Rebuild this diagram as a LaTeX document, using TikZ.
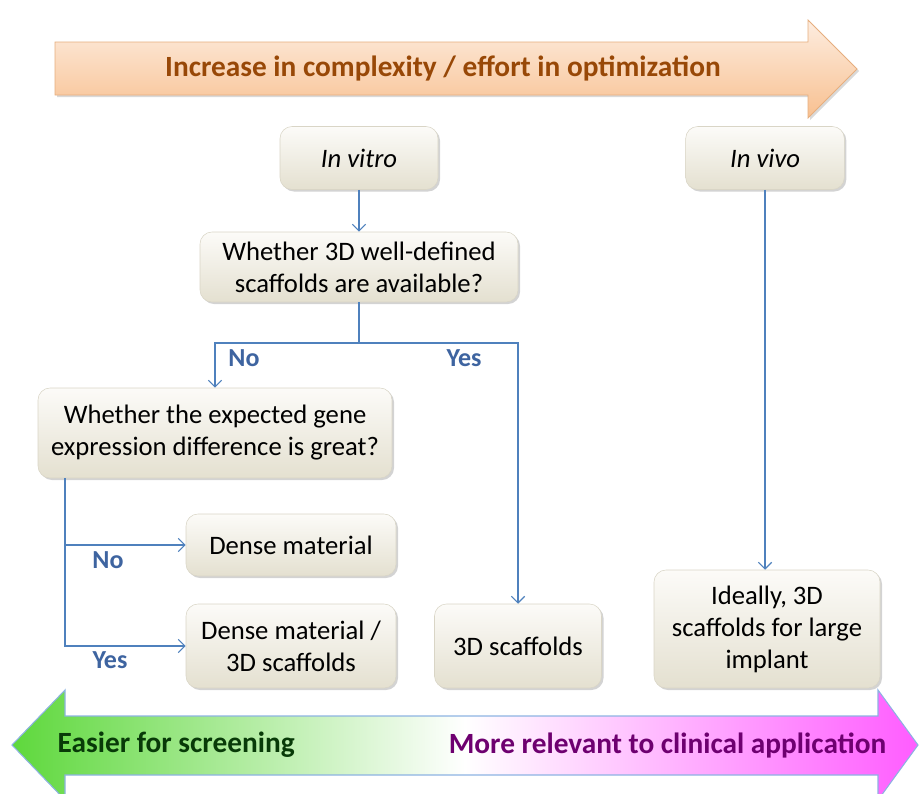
\documentclass[tikz,border=0pt]{standalone}
\usepackage{fontspec}
\setmainfont{Carlito}
\usetikzlibrary{arrows.meta,shadows}
\definecolor{conncol}{HTML}{4F81BD}
\definecolor{labcol}{HTML}{3E64A0}
\definecolor{boxtop}{HTML}{FCFBF8}
\definecolor{boxbot}{HTML}{E4E0D0}
\definecolor{boxline}{HTML}{D9D5C6}
\definecolor{toptxt}{HTML}{984807}
\definecolor{arrtop}{HTML}{FDEDE0}
\definecolor{arrbot}{HTML}{F8C090}
\definecolor{arrline}{HTML}{E6AE7E}
\definecolor{grn}{HTML}{5ED83C}
\definecolor{mag}{HTML}{FF5CFF}
\definecolor{botline}{HTML}{8DB3E2}
\definecolor{grntxt}{HTML}{083A08}
\definecolor{magtxt}{HTML}{6E0070}
\tikzset{
  box/.style={rounded corners=9pt, draw=boxline, top color=boxtop, bottom color=boxbot,
    align=center, font=\fontsize{20}{24}\selectfont, inner sep=2pt,
    drop shadow={opacity=0.35, shadow xshift=1.5pt, shadow yshift=-1.5pt}},
  conn/.style={draw=conncol, line width=0.8pt, -{Straight Barb[length=5pt,width=10pt,line width=0.8pt]}},
  connl/.style={draw=conncol, line width=0.8pt},
  lab/.style={text=labcol, font=\fontsize{19.5}{22}\selectfont\bfseries}
}
\begin{document}
\begin{tikzpicture}[x=0.75pt,y=-0.75pt]
\useasboundingbox (0,0) rectangle (920,793);
% top arrow
\path[top color=arrtop, bottom color=arrbot, draw=arrline, line width=0.6pt,
  drop shadow={opacity=0.3, shadow xshift=1.5pt, shadow yshift=-1.5pt}]
  (55,42) -- (808,42) -- (808,20) -- (857,69) -- (808,118) -- (808,95) -- (55,95) -- cycle;
\node[text=toptxt, font=\fontsize{22}{26}\selectfont\bfseries] (toptext) at (443,68) {Increase in complexity / effort in optimization};
% bottom arrow
\path[left color=grn, right color=mag, middle color=white, draw=botline, line width=0.8pt]
  (12,745) -- (65,690) -- (65,716) -- (878,716) -- (878,690) -- (918,745) -- (878,800) -- (878,775) -- (65,775) -- (65,800) -- cycle;
\node[text=grntxt, font=\fontsize{22}{26}\selectfont\bfseries, anchor=west] (lefttext) at (53,745) {Easier for screening};
\node[text=magtxt, font=\fontsize{22}{26}\selectfont\bfseries, anchor=east] (righttext) at (891,745) {More relevant to clinical application};
% boxes
\node[box, minimum width=118.5pt, minimum height=47.25pt] (invitro) at (359,158) {\itshape In vitro};
\node[box, minimum width=119pt, minimum height=47.25pt] (invivo) at (765,158) {\itshape In vivo};
\node[box, minimum width=238.5pt, minimum height=52.5pt] (q1) at (359,267) {Whether 3D well-defined\\scaffolds are available?};
\node[box, minimum width=265.5pt, minimum height=67.5pt] (q2) at (215,433) {Whether the expected gene\\expression difference is great?};
\node[box, minimum width=157.5pt, minimum height=46.5pt] (dense) at (291,545) {Dense material};
\node[box, minimum width=157.5pt, minimum height=63pt] (dense3d) at (291,646) {Dense material /\\3D scaffolds};
\node[box, minimum width=125.25pt, minimum height=63pt] (scaf) at (518,646) {3D scaffolds};
\node[box, minimum width=169.5pt, minimum height=88.5pt] (ideal) at (767,629) {Ideally, 3D\\scaffolds for large\\implant};
% connectors
\coordinate (j1) at (359,343);
\coordinate (j2) at (65,478);
\draw[conn] (invitro) -- (q1);
\draw[connl] (q1) -- (j1);
\draw[conn] (j1) -| (q2.north);
\draw[conn] (j1) -| (scaf.north);
\draw[conn] (j2) |- (dense.west);
\draw[conn] (j2) |- (dense3d.west);
\draw[conn] (invivo) -- (invivo |- ideal.north);
% labels
\node[lab] (no1) at (244,358) {No};
\node[lab] (yes1) at (464,358) {Yes};
\node[lab] (no2) at (108,560) {No};
\node[lab] (yes2) at (110,660) {Yes};
\end{tikzpicture}
\end{document}
